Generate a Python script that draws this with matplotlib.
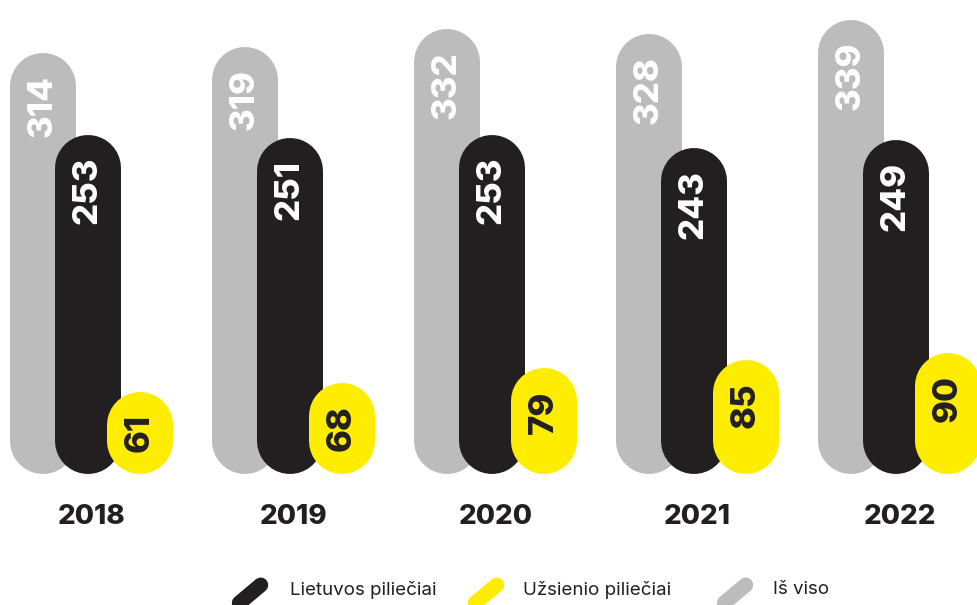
import matplotlib.pyplot as plt
from matplotlib.transforms import IdentityTransform
import numpy as np

plt.rcParams['font.family'] = ['Inter', 'DejaVu Sans']

# data
years = ['2018', '2019', '2020', '2021', '2022']
lt_citizens = [253, 251, 253, 243, 249]   # Lietuvos piliečiai
foreigners = [61, 68, 79, 85, 90]         # Užsienio piliečiai
total = [314, 319, 332, 328, 339]         # Iš viso
legend_labels = ['Lietuvos piliečiai', 'Užsienio piliečiai', 'Iš viso']

GREY = '#bcbcbc'
BLACK = '#231f20'
YELLOW = '#ffed00'

W, H = 977, 605
fig = plt.figure(figsize=(W / 100, H / 100), dpi=100)
ax = fig.add_axes([0, 0, 1, 1])
ax.axis('off')

# layout: px per unit on both axes
px_y = 1.34          # pixels per value unit
base_px = 131        # baseline height from bottom, pixels
px_x = 202           # pixels per group
x0_px = 87.6         # centre of the first black bar, pixels
ax.set_xlim(-x0_px / px_x, (W - x0_px) / px_x)
ax.set_ylim(-base_px / px_y, (H - base_px) / px_y)

bar_px = 66
r = bar_px / 2 / px_y   # cap radius in value units
lw = bar_px * 72 / 100  # line width in points

def pill(x, v, color, z):
    ax.plot([x, x], [r, v - r], color=color, lw=lw,
            solid_capstyle='round', zorder=z)

def label(x, v, color):
    ax.text(x, v - 22 / px_y, str(v), rotation=90, ha='center', va='top',
            color=color, fontsize=25, fontweight='heavy', zorder=10)

xs = np.arange(len(years))
for i in xs:
    xg = i - 45 / px_x
    xb = i
    xy = i + 52 / px_x
    pill(xg, total[i], GREY, 1)
    pill(xb, lt_citizens[i], BLACK, 2)
    pill(xy, foreigners[i], YELLOW, 3)
    label(xg, total[i], 'white')
    label(xb, lt_citizens[i], 'white')
    label(xy, foreigners[i], BLACK)
    ax.text(i + 0.02, -43 / px_y, years[i], ha='center', va='center',
            color=BLACK, fontsize=20, fontweight='heavy')

# legend with slanted pill markers
leg_marker_x = [250, 486, 735]
leg_text_x = [290, 523, 773]
leg_colors = [BLACK, YELLOW, GREY]
ang = np.deg2rad(40)
half = 14
for mx, tx, c, lab in zip(leg_marker_x, leg_text_x, leg_colors, legend_labels):
    cy = 11
    dx, dy = half * np.cos(ang), half * np.sin(ang)
    fig.add_artist(plt.Line2D([mx - dx, mx + dx], [cy - dy, cy + dy],
                              color=c, lw=15 * 72 / 100,
                              solid_capstyle='round',
                              transform=IdentityTransform()))
    fig.text(tx / W, 15 / H, lab, ha='left', va='center', color=BLACK,
             fontsize=13.5)

fig.savefig('out.png', dpi=100)
